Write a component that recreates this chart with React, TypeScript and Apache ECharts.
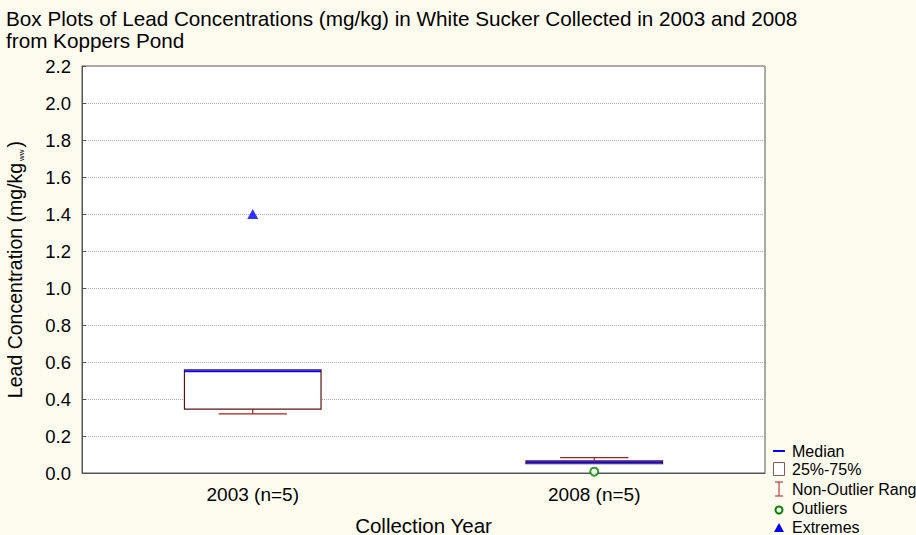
import React, { useEffect, useRef } from "react";
import * as echarts from "echarts";

const categories = ["2003 (n=5)", "2008 (n=5)"];
const whiskerLow = [0.32, 0.05];
const q1 = [0.345, 0.05];
const median = [0.55, 0.058];
const q3 = [0.558, 0.066];
const whiskerHigh = [0.558, 0.083];
const outliers: [number, number][] = [[1, 0.007]];
const extremes: [number, number][] = [[0, 1.4]];
const yTicks = [0, 0.2, 0.4, 0.6, 0.8, 1.0, 1.2, 1.4, 1.6, 1.8, 2.0, 2.2];

const FONT = "Liberation Sans";
const BOX_COLOR = "#5a1414";
const WHISKER_COLOR = "#a52020";
const MEDIAN_COLOR = "#0000ff";

export default function App() {
  const ref = useRef<HTMLDivElement>(null);
  useEffect(() => {
    if (!ref.current) return;
    const chart = echarts.init(ref.current, null, { renderer: "svg" });
    const boxData = categories.map((_, i) => [i, whiskerLow[i], q1[i], median[i], q3[i], whiskerHigh[i]]);
    const lx = 773;
    const tx = 792;
    const option: any = {
      animation: false,
      backgroundColor: "#fefbef",
      textStyle: { fontFamily: FONT },
      title: {
        text: "Box Plots of Lead Concentrations (mg/kg) in White Sucker Collected in 2003 and 2008\nfrom Koppers Pond",
        left: 1,
        top: 2,
        textStyle: { fontFamily: FONT, fontSize: 20.7, lineHeight: 22.5, fontWeight: "normal", color: "#000" },
      },
      grid: {
        left: 82,
        right: 151,
        top: 66,
        bottom: 62,
        outerBoundsMode: "none",
        containLabel: false,
        show: true,
        backgroundColor: "#ffffff",
        borderColor: "#555",
        borderWidth: 1,
      },
      xAxis: {
        type: "category",
        data: categories,
        boundaryGap: true,
        name: "Collection Year",
        nameLocation: "middle",
        nameGap: 42,
        nameTextStyle: { fontFamily: FONT, fontSize: 20.5, color: "#000" },
        axisLine: { lineStyle: { color: "#555" } },
        axisTick: { inside: true, alignWithLabel: true, length: 4, lineStyle: { color: "#555" } },
        axisLabel: { margin: 12, fontFamily: FONT, fontSize: 19, color: "#000" },
        splitLine: { show: false },
      },
      yAxis: {
        type: "value",
        min: 0,
        max: 2.2,
        interval: 0.2,
        name: "Lead Concentration (mg/kg{sub|ww})",
        nameLocation: "middle",
        nameGap: 57,
        nameTextStyle: {
          fontFamily: FONT,
          fontSize: 19.5,
          color: "#000",
          rich: { sub: { fontFamily: FONT, fontSize: 8, color: "#000", verticalAlign: "bottom", padding: [8, 2, 0, 2] } },
        },
        axisLine: { show: true, lineStyle: { color: "#555" } },
        axisTick: { show: true, inside: true, length: 4, lineStyle: { color: "#555" } },
        axisLabel: {
          margin: 11,
          fontFamily: FONT,
          fontSize: 18.5,
          color: "#000",
          formatter: (v: number) => {
            const t = yTicks.find((x) => Math.abs(x - v) < 1e-6);
            return (t !== undefined ? t : v).toFixed(1);
          },
        },
        splitLine: { show: true, lineStyle: { color: "#b0b0b0", type: "dotted", width: 1 } },
      },
      series: [
        {
          type: "custom",
          data: boxData,
          encode: { x: 0, y: [1, 2, 3, 4, 5] },
          renderItem: (params: any, api: any) => {
            const idx = api.value(0);
            const lo = api.value(1);
            const a = api.value(2);
            const m = api.value(3);
            const b = api.value(4);
            const hi = api.value(5);
            const band = api.size([1, 0])[0];
            const half = band * 0.2;
            const capHalf = band * 0.1;
            const [cx, yLo] = api.coord([idx, lo]);
            const yQ1 = api.coord([idx, a])[1];
            const yMed = api.coord([idx, m])[1];
            const yQ3 = api.coord([idx, b])[1];
            const yHi = api.coord([idx, hi])[1];
            const children: any[] = [];
            const wStyle = { stroke: WHISKER_COLOR, lineWidth: 1.2 };
            if (yLo - yQ1 > 0.5) {
              children.push({ type: "line", shape: { x1: cx, y1: yQ1, x2: cx, y2: yLo }, style: wStyle });
              children.push({ type: "line", shape: { x1: cx - capHalf, y1: yLo, x2: cx + capHalf, y2: yLo }, style: wStyle });
            }
            if (yQ3 - yHi > 0.5) {
              children.push({ type: "line", shape: { x1: cx, y1: yQ3, x2: cx, y2: yHi }, style: wStyle });
              children.push({ type: "line", shape: { x1: cx - capHalf, y1: yHi, x2: cx + capHalf, y2: yHi }, style: wStyle });
            }
            children.push({
              type: "rect",
              shape: { x: cx - half, y: yQ3, width: 2 * half, height: yQ1 - yQ3 },
              style: { fill: "#ffffff", stroke: BOX_COLOR, lineWidth: 1.2 },
            });
            children.push({
              type: "line",
              shape: { x1: cx - half, y1: yMed, x2: cx + half, y2: yMed },
              style: { stroke: MEDIAN_COLOR, lineWidth: 2 },
            });
            return { type: "group", children };
          },
          z: 3,
        },
        {
          type: "scatter",
          data: outliers,
          symbol: "emptyCircle",
          symbolSize: 8,
          itemStyle: { color: "#008000", borderColor: "#008000", borderWidth: 2 },
          z: 4,
        },
        {
          type: "scatter",
          data: extremes,
          symbol: "triangle",
          symbolSize: [11, 10],
          itemStyle: { color: "#0000ff" },
          z: 4,
        },
      ],
      graphic: [
        { type: "line", shape: { x1: lx, y1: 451, x2: lx + 12, y2: 451 }, style: { stroke: MEDIAN_COLOR, lineWidth: 2 } },
        { type: "text", x: tx, y: 451, style: { text: "Median", fontFamily: FONT, fontSize: 16, fill: "#000", verticalAlign: "middle" } },
        { type: "rect", shape: { x: lx + 0.5, y: 462.5, width: 11, height: 13 }, style: { fill: "#fff", stroke: "#8a5a5a", lineWidth: 1 } },
        { type: "text", x: tx, y: 469, style: { text: "25%-75%", fontFamily: FONT, fontSize: 16, fill: "#000", verticalAlign: "middle" } },
        { type: "line", shape: { x1: lx + 6, y1: 482, x2: lx + 6, y2: 496 }, style: { stroke: WHISKER_COLOR, lineWidth: 1 } },
        { type: "line", shape: { x1: lx + 2, y1: 482, x2: lx + 10, y2: 482 }, style: { stroke: WHISKER_COLOR, lineWidth: 1 } },
        { type: "line", shape: { x1: lx + 2, y1: 496, x2: lx + 10, y2: 496 }, style: { stroke: WHISKER_COLOR, lineWidth: 1 } },
        { type: "text", x: tx, y: 489, style: { text: "Non-Outlier Range", fontFamily: FONT, fontSize: 16, fill: "#000", verticalAlign: "middle" } },
        { type: "circle", shape: { cx: lx + 6, cy: 510, r: 3.5 }, style: { fill: "none", stroke: "#008000", lineWidth: 2 } },
        { type: "text", x: tx, y: 508, style: { text: "Outliers", fontFamily: FONT, fontSize: 16, fill: "#000", verticalAlign: "middle" } },
        { type: "polygon", shape: { points: [[lx + 6, 523], [lx + 1, 532], [lx + 11, 532]] }, style: { fill: "#0000ff" } },
        { type: "text", x: tx, y: 527, style: { text: "Extremes", fontFamily: FONT, fontSize: 16, fill: "#000", verticalAlign: "middle" } },
      ],
    };
    chart.setOption(option);
    return () => chart.dispose();
  }, []);
  return <div ref={ref} style={{ width: 916, height: 535, position: "absolute", left: 0, top: 0 }} />;
}
